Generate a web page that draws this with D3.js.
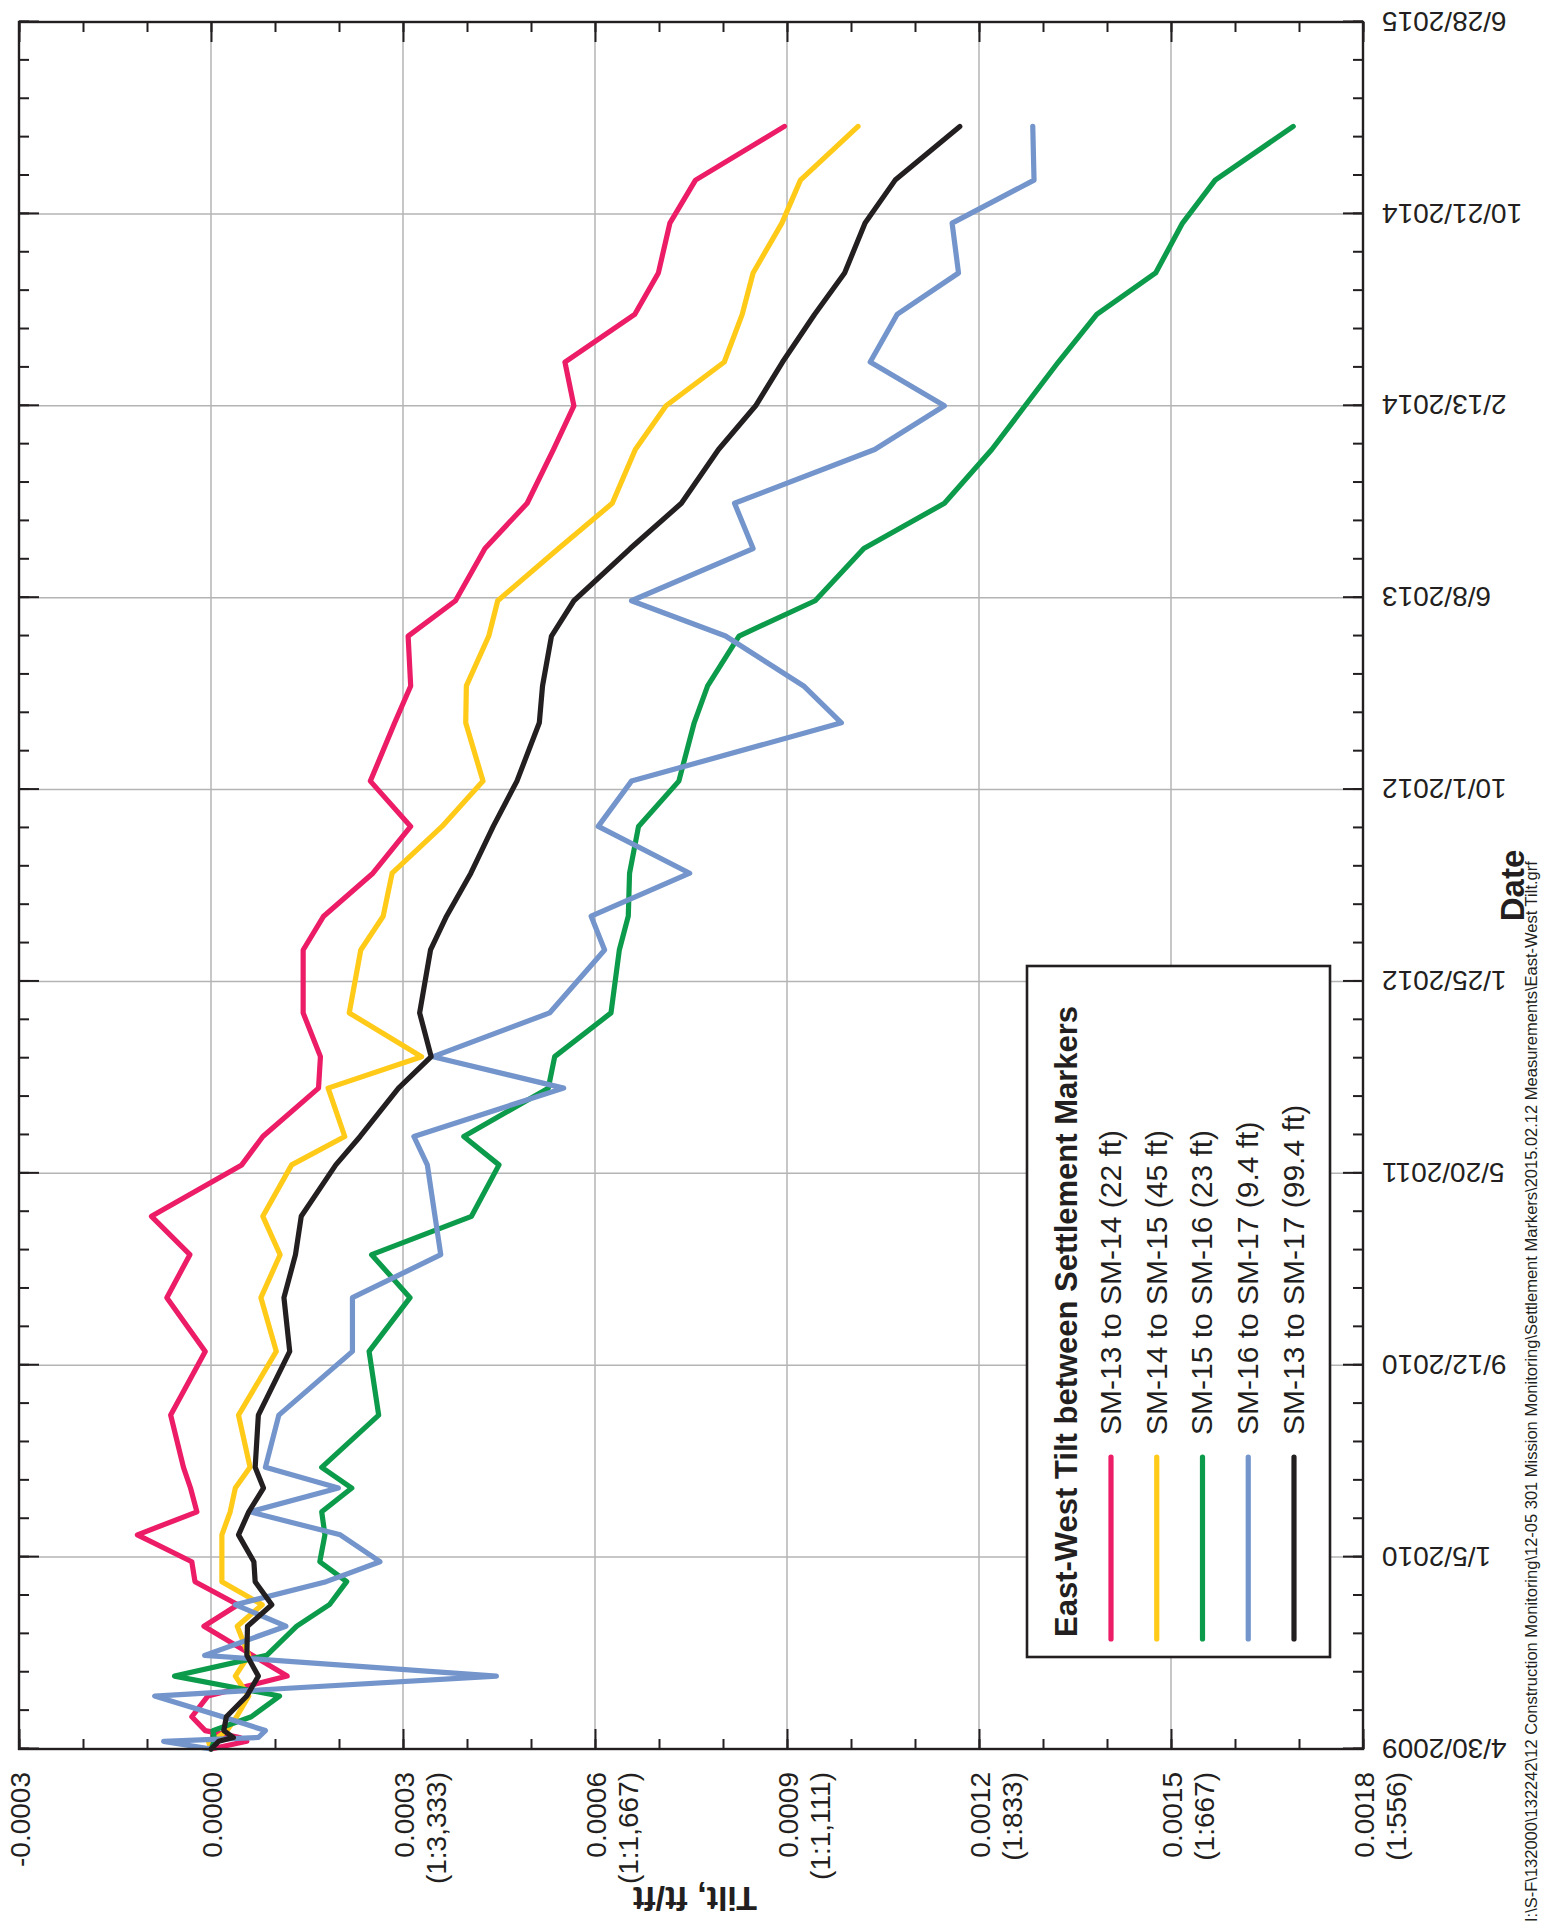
<!DOCTYPE html>
<html>
<head>
<meta charset="utf-8">
<script src="https://cdn.jsdelivr.net/npm/d3@7"></script>
<style>
  html, body { margin: 0; padding: 0; background: #fff; }
  svg { display: block; font-family: "Liberation Sans", Arial, Helvetica, sans-serif; }
</style>
</head>
<body>
<svg id="chart" width="1543" height="1923"></svg>
<script>
// Survey dates shared by every marker pair
const surveyDates = [
  "2009-04-30","2009-05-10","2009-05-15","2009-05-24","2009-06-11","2009-07-08","2009-08-03","2009-08-30",
  "2009-10-07","2009-11-04","2009-12-04","2009-12-30","2010-02-03","2010-03-05","2010-04-05","2010-05-02",
  "2010-07-09","2010-09-30","2010-12-09","2011-02-03","2011-03-25","2011-05-31","2011-07-07","2011-09-08",
  "2011-10-19","2011-12-15","2012-03-06","2012-04-19","2012-06-14","2012-08-14","2012-10-12","2012-12-27",
  "2013-02-13","2013-04-19","2013-06-04","2013-08-11","2013-10-09","2013-12-18","2014-02-13","2014-04-11",
  "2014-06-12","2014-08-05","2014-10-09","2014-12-04","2015-02-12"
];

// East-west tilt (ft/ft) for each pair of settlement markers
const sm13to14 = [
  0, 0.000056, 0.000045, -0.000009, -0.00003, -0.000005, 0.000119, 0.000065, -0.000011, 0.000042,
  -0.000025, -0.00003, -0.000115, -0.000022, -0.000032, -0.000043, -0.000063, -0.000009, -0.000069, -0.000033,
  -0.000093, 0.000048, 0.000081, 0.000168, 0.000171, 0.000144, 0.000144, 0.000176, 0.000253, 0.000312,
  0.000249, 0.000287, 0.000312, 0.000308, 0.000382, 0.000428, 0.000494, 0.000535, 0.000567, 0.000553,
  0.000662, 0.000699, 0.000717, 0.000757, 0.000896
];
const sm14to15 = [
  0, -0.000004, 0.00001, 0.000025, 0.00004, 0.000059, 0.000038, 0.000059, 0.000041, 0.00008,
  0.000017, 0.000017, 0.000017, 0.00003, 0.000038, 0.000061, 0.000043, 0.000102, 0.000078, 0.000108,
  0.000081, 0.000126, 0.000209, 0.000183, 0.000329, 0.000216, 0.000234, 0.000269, 0.000283, 0.000361,
  0.000425, 0.000398, 0.000399, 0.000434, 0.000448, 0.000543, 0.000627, 0.000663, 0.000711, 0.000802,
  0.00083, 0.000847, 0.000892, 0.000921, 0.001011
];
const sm15to16 = [
  0, 0.000005, 0.000005, 0.000003, 0.000063, 0.000107, -0.000057, 0.000087, 0.000134, 0.000185,
  0.000212, 0.00017, 0.000178, 0.000173, 0.00022, 0.000173, 0.000262, 0.000247, 0.000311, 0.000251,
  0.000407, 0.00045, 0.000395, 0.000527, 0.000537, 0.000625, 0.000638, 0.000652, 0.000654, 0.000668,
  0.000731, 0.000755, 0.000776, 0.000825, 0.000944, 0.00102, 0.001146, 0.00122, 0.001272, 0.001324,
  0.001384, 0.001476, 0.001518, 0.001569, 0.001691
];
const sm16to17 = [
  0, -0.000074, 0.000074, 0.000085, 0.000018, -0.000088, 0.000446, -0.00001, 0.000117, 0.000038,
  0.00018, 0.000264, 0.000202, 0.000061, 0.000199, 0.000085, 0.000106, 0.000221, 0.000221, 0.000359,
  0.00035, 0.000338, 0.000317, 0.000551, 0.000347, 0.000529, 0.000615, 0.000594, 0.000748, 0.000605,
  0.000657, 0.000985, 0.000926, 0.000804, 0.000657, 0.000847, 0.000818, 0.001037, 0.001146, 0.00103,
  0.001072, 0.001168, 0.001158, 0.001286, 0.001284
];
const sm13to17 = [
  0, 0.000012, 0.000035, 0.00002, 0.000024, 0.000056, 0.000074, 0.000056, 0.000057, 0.000095,
  0.000069, 0.000067, 0.000043, 0.000059, 0.000082, 0.000069, 0.000074, 0.000123, 0.000114, 0.000132,
  0.000141, 0.000195, 0.000233, 0.000293, 0.000344, 0.000326, 0.000343, 0.000368, 0.000406, 0.000441,
  0.000478, 0.000513, 0.000518, 0.000532, 0.000567, 0.000655, 0.000735, 0.000793, 0.000851, 0.000893,
  0.000943, 0.00099, 0.001022, 0.001069, 0.00117
];

const seriesNames = [
  "SM-13 to SM-14 (22 ft)",
  "SM-14 to SM-15 (45 ft)",
  "SM-15 to SM-16 (23 ft)",
  "SM-16 to SM-17 (9.4 ft)",
  "SM-13 to SM-17 (99.4 ft)"
];
const seriesColors = ["#ec1c66", "#ffca18", "#0c9b4a", "#7395cc", "#231f20"];

// Axis ticks
const dateTickLabels = ["4/30/2009","1/5/2010","9/12/2010","5/20/2011","1/25/2012",
                        "10/1/2012","6/8/2013","2/13/2014","10/21/2014","6/28/2015"];
const tiltTickValues = [-0.0003, 0, 0.0003, 0.0006, 0.0009, 0.0012, 0.0015, 0.0018];
const tiltTickLabels = [["-0.0003"], ["0.0000"], ["0.0003","(1:3,333)"], ["0.0006","(1:1,667)"],
                        ["0.0009","(1:1,111)"], ["0.0012","(1:833)"], ["0.0015","(1:667)"], ["0.0018","(1:556)"]];
const tiltMinorStep = 0.0001;
const dateMinorStepDays = 50;

const legendTitle = "East-West Tilt between Settlement Markers";
const xTitle = "Date";
const yTitle = "Tilt, ft/ft";
const filePath = "I:\\S-F\\132000\\132242\\12 Construction Monitoring\\12-05 301 Mission Monitoring\\Settlement Markers\\2015.02.12 Measurements\\East-West Tilt.grf";

// ---------------------------------------------------------------------------
const PAGE_W = 1543, PAGE_H = 1923;
const INK = "#231f20", GRID = "#b4b4b4";
const LINE_W = 5.2;

const svg = d3.select("#chart");
svg.append("rect").attr("width", PAGE_W).attr("height", PAGE_H).attr("fill", "#fff");

// The sheet is laid out landscape (dates run left to right, tilt grows downward)
// and turned a quarter turn counter-clockwise onto the portrait page.
const sheet = svg.append("g").attr("transform", `translate(0,${PAGE_H}) rotate(-90)`);
const plot = { left: 174, right: 1901, top: 19, bottom: 1363 };

const parseISO = d3.utcParse("%Y-%m-%d");
const parseMDY = d3.utcParse("%m/%d/%Y");
const dates = surveyDates.map(parseISO);
const dateTicks = dateTickLabels.map(parseMDY);

const x = d3.scaleUtc()
  .domain([dateTicks[0], dateTicks[dateTicks.length - 1]])
  .range([plot.left, plot.right]);
const y = d3.scaleLinear()
  .domain([tiltTickValues[0], tiltTickValues[tiltTickValues.length - 1]])
  .range([plot.top, plot.bottom]);

const minorDates = d3.utcDay.range(dateTicks[0], d3.utcDay.offset(dateTicks[dateTicks.length - 1], 1), dateMinorStepDays);
const minorTilts = d3.range(Math.round((y.domain()[1] - y.domain()[0]) / tiltMinorStep) + 1)
  .map(i => +(y.domain()[0] + i * tiltMinorStep).toFixed(6));

// Grid
const grid = sheet.append("g").attr("stroke", GRID).attr("stroke-width", 1.5);
grid.selectAll("line.gx").data(dateTicks.slice(1, -1)).join("line")
  .attr("x1", d => x(d)).attr("x2", d => x(d))
  .attr("y1", plot.top).attr("y2", plot.bottom);
grid.selectAll("line.gy").data(tiltTickValues.slice(1, -1)).join("line")
  .attr("x1", plot.left).attr("x2", plot.right)
  .attr("y1", d => y(d)).attr("y2", d => y(d));

// Axes: ticks point into the plot on all four sides
function styleTicks(g) {
  g.select(".domain").remove();
  g.selectAll(".tick line").attr("stroke", INK).attr("stroke-width", 2);
}
const noLabel = () => "";

sheet.append("g").attr("transform", `translate(0,${plot.bottom})`)
  .call(d3.axisBottom(x).tickValues(minorDates).tickSize(-10).tickFormat(noLabel)).call(styleTicks)
  .selectAll("text").remove();
sheet.append("g").attr("transform", `translate(0,${plot.top})`)
  .call(d3.axisTop(x).tickValues(minorDates).tickSize(-10).tickFormat(noLabel)).call(styleTicks)
  .selectAll("text").remove();
sheet.append("g").attr("transform", `translate(0,${plot.top})`)
  .call(d3.axisTop(x).tickValues(dateTicks).tickSize(-20).tickFormat(noLabel)).call(styleTicks)
  .selectAll("text").remove();
sheet.append("g").attr("transform", `translate(${plot.left},0)`)
  .call(d3.axisLeft(y).tickValues(minorTilts).tickSize(-10).tickFormat(noLabel)).call(styleTicks)
  .selectAll("text").remove();
sheet.append("g").attr("transform", `translate(${plot.right},0)`)
  .call(d3.axisRight(y).tickValues(minorTilts).tickSize(-10).tickFormat(noLabel)).call(styleTicks)
  .selectAll("text").remove();
sheet.append("g").attr("transform", `translate(${plot.right},0)`)
  .call(d3.axisRight(y).tickValues(tiltTickValues).tickSize(-20).tickFormat(noLabel)).call(styleTicks)
  .selectAll("text").remove();

// Date axis with labels (set on edge, reading upward)
const xAxisG = sheet.append("g").attr("transform", `translate(0,${plot.bottom})`)
  .call(d3.axisBottom(x).tickValues(dateTicks).tickSize(-20)
        .tickFormat((d, i) => dateTickLabels[i]))
  .call(styleTicks);
xAxisG.selectAll(".tick text")
  .attr("x", 0).attr("y", 0).attr("dy", "0.35em")
  .attr("text-anchor", "end")
  .attr("transform", "translate(0,19) rotate(-90)")
  .attr("fill", INK).attr("font-size", 28)
  .attr("font-family", "'Liberation Sans', Arial, sans-serif");

// Tilt axis with labels (value and slope ratio)
const yAxisG = sheet.append("g").attr("transform", `translate(${plot.left},0)`)
  .call(d3.axisLeft(y).tickValues(tiltTickValues).tickSize(-20).tickPadding(23).tickFormat(noLabel))
  .call(styleTicks);
yAxisG.selectAll(".tick text").each(function(d, i) {
  const t = d3.select(this)
    .attr("fill", INK).attr("font-size", 28).attr("dy", null)
    .attr("font-family", "'Liberation Sans', Arial, sans-serif");
  t.text(null);
  tiltTickLabels[i].forEach((line, k) => {
    t.append("tspan").attr("x", -23).attr("dy", k === 0 ? "0.36em" : 32).text(line);
  });
});

// Data lines
const lineGen = d3.line().x((d, i) => x(dates[i])).y(d => y(d));
const allSeries = [sm13to14, sm14to15, sm15to16, sm16to17, sm13to17];
sheet.append("g").selectAll("path").data(allSeries).join("path")
  .attr("d", lineGen)
  .attr("fill", "none")
  .attr("stroke", (d, i) => seriesColors[i])
  .attr("stroke-width", LINE_W)
  .attr("stroke-linejoin", "round")
  .attr("stroke-linecap", "round");

// Plot frame
sheet.append("rect")
  .attr("x", plot.left).attr("y", plot.top)
  .attr("width", plot.right - plot.left).attr("height", plot.bottom - plot.top)
  .attr("fill", "none").attr("stroke", INK).attr("stroke-width", 2.4);

// Legend
const legend = sheet.append("g");
legend.append("rect")
  .attr("x", 266).attr("y", 1027).attr("width", 691).attr("height", 303)
  .attr("fill", "#fff").attr("stroke", INK).attr("stroke-width", 2.6);
legend.append("text")
  .attr("x", 286).attr("y", 1077)
  .attr("font-size", 31).attr("font-weight", "bold").attr("fill", INK)
  .text(legendTitle);
const legendRows = legend.selectAll("g.row").data(seriesNames).join("g")
  .attr("transform", (d, i) => `translate(0,${1111 + i * 45.75})`);
legendRows.append("line")
  .attr("x1", 284).attr("x2", 466).attr("y1", 0).attr("y2", 0)
  .attr("stroke", (d, i) => seriesColors[i]).attr("stroke-width", LINE_W)
  .attr("stroke-linecap", "round");
legendRows.append("text")
  .attr("x", 488).attr("y", 0).attr("dy", "0.33em")
  .attr("font-size", 30).attr("fill", INK)
  .text(d => d);

// Axis titles
sheet.append("text")
  .attr("x", (plot.left + plot.right) / 2).attr("y", 1524)
  .attr("text-anchor", "middle").attr("font-size", 33).attr("font-weight", "bold").attr("fill", INK)
  .text(xTitle);
sheet.append("text")
  .attr("transform", `translate(36,${(plot.top + plot.bottom) / 2 + 4}) rotate(-90)`)
  .attr("text-anchor", "middle").attr("font-size", 34).attr("font-weight", "bold").attr("fill", INK)
  .text(yTitle);

// Source file path along the margin
sheet.append("text")
  .attr("x", 1).attr("y", 1537)
  .attr("font-size", 16.5).attr("fill", INK)
  .text(filePath);
</script>
</body>
</html>
